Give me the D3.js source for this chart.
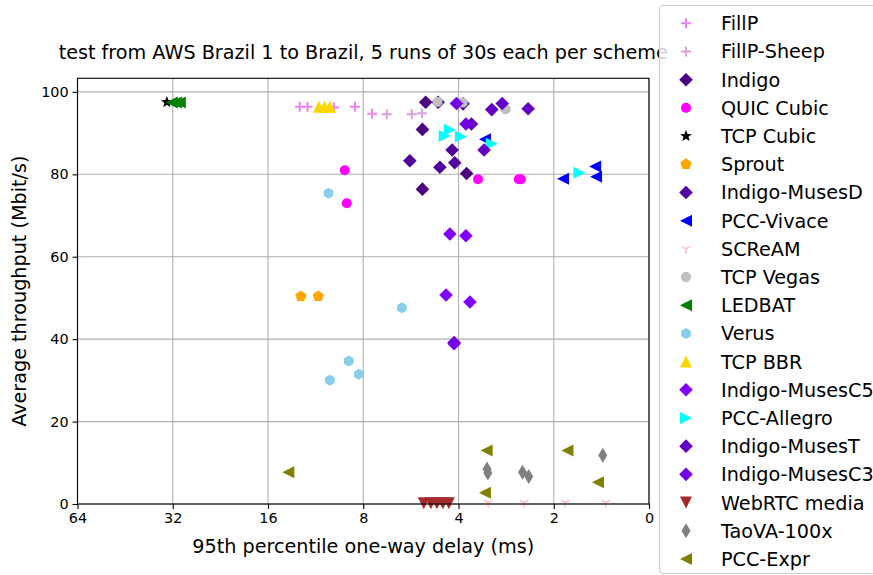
<!DOCTYPE html>
<html>
<head>
<meta charset="utf-8">
<script src="https://cdn.jsdelivr.net/npm/d3@7"></script>
<style>
  body { margin: 0; background: #fff; }
  svg { font-family: "DejaVu Sans", sans-serif; }
</style>
</head>
<body>
<svg id="chart" width="873" height="575"></svg>
<script>
// scheme names in plotting / legend order
var schemes = ["FillP", "FillP-Sheep", "Indigo", "QUIC Cubic", "TCP Cubic", "Sprout",
  "Indigo-MusesD", "PCC-Vivace", "SCReAM", "TCP Vegas", "LEDBAT", "Verus", "TCP BBR",
  "Indigo-MusesC5", "PCC-Allegro", "Indigo-MusesT", "Indigo-MusesC3", "WebRTC media",
  "TaoVA-100x", "PCC-Expr"];

// [95th pct delay (ms), avg throughput (Mbit/s)] per run
var fillp = [[12.7, 96.4], [12.0, 96.4], [9.9, 96.2], [8.5, 96.4], [7.5, 94.7]];
var fillpSheep = [[6.74, 94.6], [5.62, 94.6], [5.22, 94.8]];
var indigo = [[5.08, 97.5], [4.64, 97.5], [5.2, 90.9], [5.2, 76.4], [3.77, 80.2]];
var quicCubic = [[9.15, 81.0], [9.02, 73.0], [3.47, 78.8], [2.58, 78.8], [2.54, 78.8]];
var tcpCubic = [[33.4, 97.5]];
var sprout = [[12.6, 50.4], [11.1, 50.4]];
var indigoMusesD = [[3.87, 97.1], [5.7, 83.3], [4.58, 81.7], [4.11, 82.8], [4.19, 85.9]];
var pccVivace = [[3.3, 88.5], [1.87, 78.9], [1.48, 81.9], [1.47, 79.4]];
var scream = [[3.22, 0.3], [2.48, 0.3], [1.84, 0.3], [1.37, 0.3]];
var tcpVegas = [[4.66, 97.6], [3.88, 97.4], [2.84, 95.8]];
var ledbat = [[32.2, 97.4], [31.3, 97.4], [30.4, 97.4]];
var verus = [[10.3, 75.4], [6.04, 47.6], [8.89, 34.7], [8.26, 31.5], [10.2, 30.0]];
var tcpBbr = [[11.05, 96.4], [10.6, 96.4], [10.2, 96.4]];
var indigoMusesC5 = [[4.26, 65.5], [3.79, 65.1], [4.38, 50.7], [3.68, 49.0], [4.13, 38.9]];
var pccAllegro = [[4.42, 89.3], [4.26, 90.8], [3.93, 89.2], [3.14, 87.4], [1.66, 80.4]];
var indigoMusesT = [[3.14, 95.7], [2.41, 95.9], [3.32, 85.9], [3.64, 92.2], [2.91, 97.2]];
var indigoMusesC3 = [[4.06, 97.2], [3.79, 92.2], [4.13, 39.2]];
var webrtc = [[5.15, 0.2], [4.89, 0.2], [4.68, 0.2], [4.48, 0.2], [4.29, 0.2]];
var taova = [[3.25, 8.5], [3.23, 7.5], [2.51, 7.7], [2.4, 6.7], [1.4, 11.8]];
var pccExpr = [[3.26, 13.0], [3.3, 2.7], [1.81, 13.0], [1.45, 5.3], [13.8, 7.7]];

var series = [fillp, fillpSheep, indigo, quicCubic, tcpCubic, sprout, indigoMusesD,
  pccVivace, scream, tcpVegas, ledbat, verus, tcpBbr, indigoMusesC5, pccAllegro,
  indigoMusesT, indigoMusesC3, webrtc, taova, pccExpr];

var xTicks = [64, 32, 16, 8, 4, 2, 1];
var xTickLabels = ["64", "32", "16", "8", "4", "2", "0"];
var yTicks = [0, 20, 40, 60, 80, 100];

// styles
var colors = ["#ee82ee", "#dda0dd", "#4b0082", "#ff00ff", "#000000", "#ffa500",
  "#52009e", "#0000ff", "#ffc0cb", "#c0c0c0", "#008000", "#87ceeb", "#ffd700",
  "#8000ff", "#00ffff", "#6300c4", "#7400e6", "#a52a2a", "#808080", "#808000"];
var shapes = ["plus", "plus", "diamond", "circle", "star", "pentagon", "diamond",
  "triLeft", "triY", "octagon", "triLeft", "hexagon", "triUp", "diamond", "triRight",
  "diamond", "diamond", "triDown", "thinDiamond", "triLeft"];

var svg = d3.select("#chart");
var margin = { left: 77.5, right: 649, top: 78.3, bottom: 504 };
var bigFont = 19.2, tickFont = 14.4;

var x = d3.scaleLog().base(2).domain([64, 1]).range([margin.left, margin.right]);
var y = d3.scaleLinear().domain([0, 103.3]).range([margin.bottom, margin.top]);

function poly(n, r, rot) {
  var pts = [];
  for (var i = 0; i < n; i++) {
    var a = rot + i * 2 * Math.PI / n;
    pts.push([r * Math.sin(a), -r * Math.cos(a)]);
  }
  return "M" + pts.map(function(p) { return p[0].toFixed(2) + "," + p[1].toFixed(2); }).join("L") + "Z";
}

function markerPath(shape) {
  switch (shape) {
    case "plus": return "M-5,0H5M0,-5V5";
    case "triY": return "M0,0V5M0,0L-4.3,-2.5M0,0L4.3,-2.5";
    case "diamond": return "M0,-6.8L6.8,0L0,6.8L-6.8,0Z";
    case "thinDiamond": return "M0,-7.5L4.5,0L0,7.5L-4.5,0Z";
    case "circle": return d3.symbol(d3.symbolCircle, Math.PI * 25)();
    case "pentagon": return poly(5, 5.9, 0);
    case "hexagon": return poly(6, 5.5, 0);
    case "octagon": return poly(8, 5.3, Math.PI / 8);
    case "triUp": return "M0,-6L6,6L-6,6Z";
    case "triDown": return "M0,6L6,-6L-6,-6Z";
    case "triLeft": return "M-6,0L6,-6L6,6Z";
    case "triRight": return "M6,0L-6,-6L-6,6Z";
    case "star":
      var pts = [];
      for (var i = 0; i < 10; i++) {
        var r = i % 2 ? 2.6 : 6.2, a = i * Math.PI / 5;
        pts.push([r * Math.sin(a), -r * Math.cos(a)]);
      }
      return "M" + pts.map(function(p) { return p[0].toFixed(2) + "," + p[1].toFixed(2); }).join("L") + "Z";
  }
}

function styleMarker(sel, i) {
  var s = shapes[i];
  if (s === "plus" || s === "triY") {
    sel.attr("fill", "none").attr("stroke", colors[i]).attr("stroke-width", s === "plus" ? 2 : 1.6);
  } else {
    sel.attr("fill", colors[i]).attr("stroke", "none");
  }
}

// grid
svg.append("g").selectAll("line.gx")
  .data(xTicks).enter().append("line")
  .attr("x1", function(d) { return x(d); }).attr("x2", function(d) { return x(d); })
  .attr("y1", margin.top).attr("y2", margin.bottom)
  .attr("stroke", "#b0b0b0").attr("stroke-width", 1.1);
svg.append("g").selectAll("line.gy")
  .data(yTicks).enter().append("line")
  .attr("x1", margin.left).attr("x2", margin.right)
  .attr("y1", function(d) { return y(d); }).attr("y2", function(d) { return y(d); })
  .attr("stroke", "#b0b0b0").attr("stroke-width", 1.1);

// points
series.forEach(function(pts, i) {
  svg.append("g").selectAll("path")
    .data(pts).enter().append("path")
    .attr("d", markerPath(shapes[i]))
    .attr("transform", function(d) { return "translate(" + x(d[0]) + "," + y(d[1]) + ")"; })
    .call(styleMarker, i);
});

// frame
svg.append("rect")
  .attr("x", margin.left).attr("y", margin.top)
  .attr("width", margin.right - margin.left).attr("height", margin.bottom - margin.top)
  .attr("fill", "none").attr("stroke", "#000").attr("stroke-width", 1.1);

// axes
var xAxis = d3.axisBottom(x).tickValues(xTicks)
  .tickFormat(function(d, i) { return xTickLabels[i]; })
  .tickSize(4.9).tickSizeOuter(0).tickPadding(4);
var gx = svg.append("g").attr("transform", "translate(0," + margin.bottom + ")").call(xAxis);
var yAxis = d3.axisLeft(y).tickValues(yTicks).tickSize(4.9).tickSizeOuter(0).tickPadding(4);
var gy = svg.append("g").attr("transform", "translate(" + margin.left + ",0)").call(yAxis);
[gx, gy].forEach(function(g) {
  g.select(".domain").remove();
  g.selectAll("line").attr("stroke", "#000").attr("stroke-width", 1.1);
  g.selectAll("text").attr("font-size", tickFont).attr("fill", "#000")
    .attr("font-family", "DejaVu Sans, sans-serif");
});

// labels
svg.append("text")
  .attr("x", (margin.left + margin.right) / 2).attr("y", 553)
  .attr("text-anchor", "middle").attr("font-size", bigFont)
  .text("95th percentile one-way delay (ms)");
svg.append("text")
  .attr("transform", "translate(26," + ((margin.top + margin.bottom) / 2) + ") rotate(-90)")
  .attr("text-anchor", "middle").attr("font-size", bigFont)
  .text("Average throughput (Mbit/s)");
svg.append("text")
  .attr("x", (margin.left + margin.right) / 2).attr("y", 59)
  .attr("text-anchor", "middle").attr("font-size", bigFont)
  .text("test from AWS Brazil 1 to Brazil, 5 runs of 30s each per scheme");

// legend
var legend = svg.append("g");
legend.append("rect")
  .attr("x", 659.5).attr("y", 5.5).attr("width", 225).attr("height", 568)
  .attr("rx", 4).attr("fill", "#fff").attr("fill-opacity", 0.8)
  .attr("stroke", "#cccccc").attr("stroke-width", 1.1);
var item = legend.selectAll("g.item")
  .data(schemes).enter().append("g")
  .attr("transform", function(d, i) { return "translate(0," + (23.3 + i * 28.19) + ")"; });
item.append("path")
  .attr("d", function(d, i) { return markerPath(shapes[i]); })
  .attr("transform", "translate(686,0)")
  .each(function(d, i) { styleMarker(d3.select(this), i); });
item.append("text")
  .attr("x", 721).attr("y", 7)
  .attr("font-size", bigFont)
  .text(function(d) { return d; });
</script>
</body>
</html>
